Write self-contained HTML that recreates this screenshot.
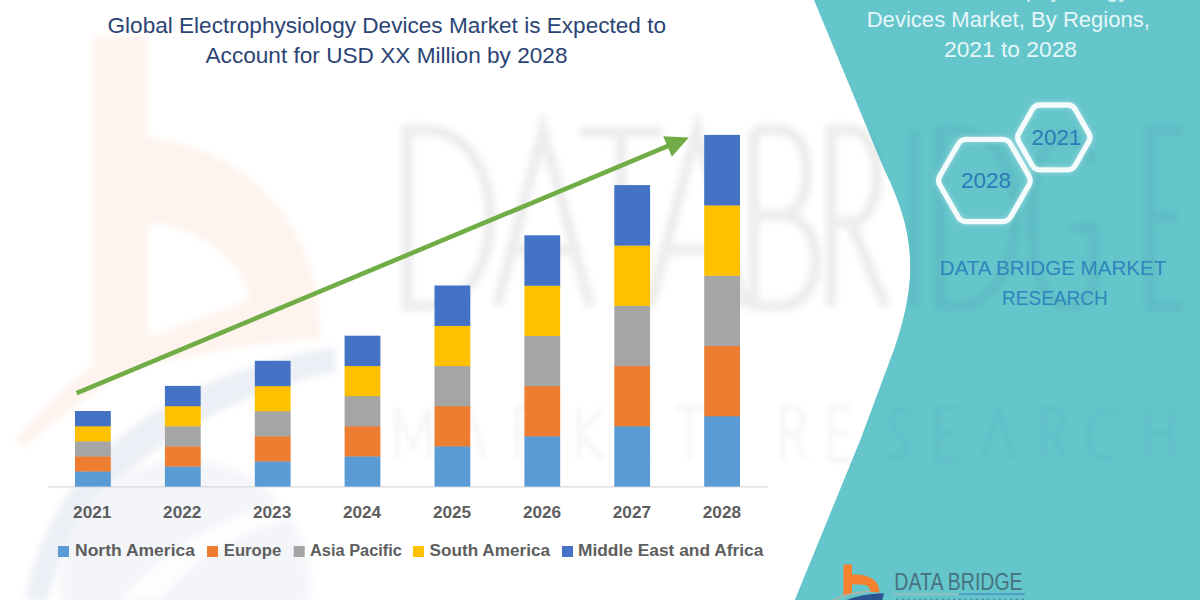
<!DOCTYPE html>
<html><head><meta charset="utf-8"><title>Global Electrophysiology Devices Market</title>
<style>
html,body{margin:0;padding:0;background:#fff;}
body{width:1200px;height:600px;overflow:hidden;font-family:"Liberation Sans",sans-serif;}
svg{display:block;font-family:"Liberation Sans",sans-serif;}
</style></head><body>
<svg width="1200" height="600" viewBox="0 0 1200 600">
<defs>
<filter id="b2" x="-10%" y="-10%" width="120%" height="120%"><feGaussianBlur stdDeviation="2"/></filter>
<filter id="b3" x="-10%" y="-10%" width="120%" height="120%"><feGaussianBlur stdDeviation="3"/></filter>
<filter id="b5" x="-10%" y="-10%" width="120%" height="120%"><feGaussianBlur stdDeviation="5"/></filter>
<filter id="b1" x="-10%" y="-10%" width="120%" height="120%"><feGaussianBlur stdDeviation="1.2"/></filter>
<filter id="hs" x="-20%" y="-20%" width="140%" height="140%"><feGaussianBlur stdDeviation="2.2"/></filter>
<clipPath id="tealclip"><path d="M814,0 L884.5,170 C905,212 910.3,240 910.3,268 C910.3,295 902.5,325 893.8,350 L860.3,440 L794.8,600 L1200,600 L1200,0 Z"/></clipPath>
<clipPath id="page"><rect width="1200" height="600"/></clipPath>
</defs>
<rect width="1200" height="600" fill="#ffffff"/>

<!-- faint watermark logo (left) -->
<g id="wm-left" clip-path="url(#page)">
<path fill-rule="evenodd" d="M93,36 L147,36 L147,138 C245,146 314,225 318,312 L321,338 L250,345 L148,364 C110,378 60,415 25,447 L15,440 C45,405 75,378 93,365 Z M148,222 C200,226 246,262 250,300 L148,338 Z" fill="#FEF3ED" filter="url(#b3)"/>
<path d="M335,347 C200,368 55,440 25,600 L48,600 C75,485 200,400 335,372 Z" fill="#ECEFF5" filter="url(#b3)"/>
<ellipse cx="185" cy="585" rx="125" ry="125" fill="#F3F5F9" filter="url(#b5)"/>
<path d="M120,600 C170,540 250,500 330,495 L330,512 C260,520 200,550 160,600 Z" fill="#FFFFFF" opacity="0.8" filter="url(#b3)"/>
</g>

<!-- faint big watermark text -->
<g id="wm-text" fill="none" stroke="#EDEDED" stroke-width="11" filter="url(#b3)">

<path d="M407,130 L407,306 L425,306 C512,306 512,130 425,130 Z"/>
<path d="M497,306 L543,130 L590,306 M512,250 L575,250"/>
<path d="M580,132 L662,132 M621,132 L621,306"/>
<path d="M650,306 L697,130 L745,306 M665,250 L730,250"/>
<path d="M754,130 L754,306 L780,306 C828,306 828,215 780,215 L754,215 M780,215 C816,215 816,130 780,130 L754,130"/>
<path d="M831,306 L831,130 L850,130 C886,130 886,222 850,222 L831,222 M850,222 L886,306"/>

</g>
<g id="wm-text2" fill="none" stroke="#F6F6F6" stroke-width="5" filter="url(#b2)">
<path d="M397,460 L397,408 L413,448 L429,408 L429,460"/>
<path d="M455,460 L470,408 L485,460"/>
<path d="M517,460 L517,408 L527,408 C541,408 541,434 527,434 L517,434 M527,434 L540,460"/>
<path d="M579,408 L579,460 M603,408 L580,434 L604,460"/>
<path d="M651,408 L630,408 L630,460 L651,460 M630,433 L648,433"/>
<path d="M675,408 L705,408 M690,408 L690,460"/>
<path d="M783,460 L783,408 L793,408 C807,408 807,434 793,434 L783,434 M793,434 L806,460"/>
<path d="M851,408 L830,408 L830,460 L851,460 M830,433 L848,433"/>
</g>
<path d="M400,350 L790,350" stroke="#FBEAE1" stroke-width="3" filter="url(#b1)"/>
<path d="M800,350 L910,350" stroke="#E5EBF5" stroke-width="3" filter="url(#b1)"/>

<!-- teal panel -->
<path d="M814,0 L884.5,170 C905,212 910.3,240 910.3,268 C910.3,295 902.5,325 893.8,350 L860.3,440 L794.8,600 L1200,600 L1200,0 Z" fill="#64C5CB"/>
<g clip-path="url(#tealclip)">
<g fill="none" stroke="#5EBEC5" stroke-width="11" filter="url(#b2)">

<path d="M831,306 L831,130 L850,130 C886,130 886,222 850,222 L831,222 M850,222 L886,306"/>
<path d="M914,130 L914,306"/>
<path d="M940,130 L940,306 L955,306 C1036,306 1036,130 955,130 Z"/>
<path d="M1092,162 C1075,118 1032,125 1032,220 C1032,315 1075,320 1094,288 L1094,228 L1070,228"/>
<path d="M1182,130 L1150,130 L1150,306 L1182,306 M1150,217 L1178,217"/>

</g>
<g fill="none" stroke="#60C0C7" stroke-width="5" filter="url(#b2)">
<path d="M783,460 L783,408 L793,408 C807,408 807,434 793,434 L783,434 M793,434 L806,460"/>
<path d="M851,408 L830,408 L830,460 L851,460 M830,433 L848,433"/>
<path d="M909,413 C899,404 885,414 895,430 C915,444 905,466 887,455"/>
<path d="M958,408 L937,408 L937,460 L958,460 M937,433 L955,433"/>
<path d="M983,460 L998,408 L1013,460"/>
<path d="M1043,460 L1043,408 L1053,408 C1067,408 1067,434 1053,434 L1043,434 M1053,434 L1066,460"/>
<path d="M1118,416 C1104,402 1088,416 1088,434 C1088,454 1104,466 1118,452"/>
<path d="M1147,408 L1147,460 M1171,408 L1171,460 M1147,433 L1171,433"/>
</g>
<path d="M900,350 L1200,350" stroke="#60BFC7" stroke-width="3" filter="url(#b1)"/>
</g>

<!-- axis -->
<line x1="48" y1="486.9" x2="768" y2="486.9" stroke="#D9D9D9" stroke-width="1.3"/>

<!-- bars -->
<rect x="75.0" y="471.24" width="35.8" height="15.36" fill="#5B9BD5"/>
<rect x="75.0" y="456.18" width="35.8" height="15.36" fill="#ED7D31"/>
<rect x="75.0" y="441.12" width="35.8" height="15.36" fill="#A5A5A5"/>
<rect x="75.0" y="426.06" width="35.8" height="15.36" fill="#FFC000"/>
<rect x="75.0" y="411.00" width="35.8" height="15.36" fill="#4472C4"/>
<rect x="164.9" y="466.22" width="35.8" height="20.38" fill="#5B9BD5"/>
<rect x="164.9" y="446.14" width="35.8" height="20.38" fill="#ED7D31"/>
<rect x="164.9" y="426.06" width="35.8" height="20.38" fill="#A5A5A5"/>
<rect x="164.9" y="405.98" width="35.8" height="20.38" fill="#FFC000"/>
<rect x="164.9" y="385.90" width="35.8" height="20.38" fill="#4472C4"/>
<rect x="254.8" y="461.20" width="35.8" height="25.40" fill="#5B9BD5"/>
<rect x="254.8" y="436.10" width="35.8" height="25.40" fill="#ED7D31"/>
<rect x="254.8" y="411.00" width="35.8" height="25.40" fill="#A5A5A5"/>
<rect x="254.8" y="385.90" width="35.8" height="25.40" fill="#FFC000"/>
<rect x="254.8" y="360.80" width="35.8" height="25.40" fill="#4472C4"/>
<rect x="344.6" y="456.18" width="35.8" height="30.42" fill="#5B9BD5"/>
<rect x="344.6" y="426.06" width="35.8" height="30.42" fill="#ED7D31"/>
<rect x="344.6" y="395.94" width="35.8" height="30.42" fill="#A5A5A5"/>
<rect x="344.6" y="365.82" width="35.8" height="30.42" fill="#FFC000"/>
<rect x="344.6" y="335.70" width="35.8" height="30.42" fill="#4472C4"/>
<rect x="434.5" y="446.14" width="35.8" height="40.46" fill="#5B9BD5"/>
<rect x="434.5" y="405.98" width="35.8" height="40.46" fill="#ED7D31"/>
<rect x="434.5" y="365.82" width="35.8" height="40.46" fill="#A5A5A5"/>
<rect x="434.5" y="325.66" width="35.8" height="40.46" fill="#FFC000"/>
<rect x="434.5" y="285.50" width="35.8" height="40.46" fill="#4472C4"/>
<rect x="524.4" y="436.10" width="35.8" height="50.50" fill="#5B9BD5"/>
<rect x="524.4" y="385.90" width="35.8" height="50.50" fill="#ED7D31"/>
<rect x="524.4" y="335.70" width="35.8" height="50.50" fill="#A5A5A5"/>
<rect x="524.4" y="285.50" width="35.8" height="50.50" fill="#FFC000"/>
<rect x="524.4" y="235.30" width="35.8" height="50.50" fill="#4472C4"/>
<rect x="614.3" y="426.06" width="35.8" height="60.54" fill="#5B9BD5"/>
<rect x="614.3" y="365.82" width="35.8" height="60.54" fill="#ED7D31"/>
<rect x="614.3" y="305.58" width="35.8" height="60.54" fill="#A5A5A5"/>
<rect x="614.3" y="245.34" width="35.8" height="60.54" fill="#FFC000"/>
<rect x="614.3" y="185.10" width="35.8" height="60.54" fill="#4472C4"/>
<rect x="704.2" y="416.02" width="35.8" height="70.58" fill="#5B9BD5"/>
<rect x="704.2" y="345.74" width="35.8" height="70.58" fill="#ED7D31"/>
<rect x="704.2" y="275.46" width="35.8" height="70.58" fill="#A5A5A5"/>
<rect x="704.2" y="205.18" width="35.8" height="70.58" fill="#FFC000"/>
<rect x="704.2" y="134.90" width="35.8" height="70.58" fill="#4472C4"/>

<!-- arrow -->
<line x1="76.6" y1="393.2" x2="670" y2="145.2" stroke="#70AD47" stroke-width="4.6"/>
<polygon points="688.8,137.4 663.2,136.2 671.9,156.8" fill="#70AD47"/>

<!-- title -->
<g fill="#2B4474" font-size="21.6">
<text x="107.5" y="32.5" textLength="558.5" lengthAdjust="spacingAndGlyphs">Global Electrophysiology Devices Market is Expected to</text>
<text x="205.5" y="62.5" textLength="362" lengthAdjust="spacingAndGlyphs">Account for USD XX Million by 2028</text>
</g>

<!-- year labels -->
<g fill="#5E5E5E" font-size="16" font-weight="bold">
<text x="73.1" y="518.2" textLength="38.2" lengthAdjust="spacingAndGlyphs">2021</text>
<text x="163.1" y="518.2" textLength="38.2" lengthAdjust="spacingAndGlyphs">2022</text>
<text x="253.0" y="518.2" textLength="38.2" lengthAdjust="spacingAndGlyphs">2023</text>
<text x="342.9" y="518.2" textLength="38.2" lengthAdjust="spacingAndGlyphs">2024</text>
<text x="432.9" y="518.2" textLength="38.2" lengthAdjust="spacingAndGlyphs">2025</text>
<text x="522.9" y="518.2" textLength="38.2" lengthAdjust="spacingAndGlyphs">2026</text>
<text x="612.8" y="518.2" textLength="38.2" lengthAdjust="spacingAndGlyphs">2027</text>
<text x="702.8" y="518.2" textLength="38.2" lengthAdjust="spacingAndGlyphs">2028</text>
</g>

<!-- legend -->
<g font-size="15.8" font-weight="bold" fill="#5E5E5E">
<rect x="58" y="546" width="11" height="11" fill="#5B9BD5"/>
<text x="75" y="556.3" textLength="120" lengthAdjust="spacingAndGlyphs">North America</text>
<rect x="207" y="546" width="11" height="11" fill="#ED7D31"/>
<text x="223.8" y="556.3" textLength="57.5" lengthAdjust="spacingAndGlyphs">Europe</text>
<rect x="293.7" y="546" width="11" height="11" fill="#A5A5A5"/>
<text x="310" y="556.3" textLength="92" lengthAdjust="spacingAndGlyphs">Asia Pacific</text>
<rect x="413" y="546" width="11" height="11" fill="#FFC000"/>
<text x="429.5" y="556.3" textLength="120.5" lengthAdjust="spacingAndGlyphs">South America</text>
<rect x="562" y="546" width="11" height="11" fill="#4472C4"/>
<text x="578" y="556.3" textLength="185.3" lengthAdjust="spacingAndGlyphs">Middle East and Africa</text>
</g>

<!-- right panel text -->
<g fill="#E6F7F9" font-size="21.6">
<text x="888.5" y="-3.3" textLength="241" lengthAdjust="spacingAndGlyphs">Global Electrophysiology</text>
<text x="866.7" y="26.7" textLength="283.3" lengthAdjust="spacingAndGlyphs">Devices Market, By Regions,</text>
<text x="944" y="56.7" textLength="133" lengthAdjust="spacingAndGlyphs">2021 to 2028</text>
</g>

<!-- hexagons -->
<g fill="none" stroke="#FFFFFF" stroke-width="8" opacity="0.25" filter="url(#hs)">
<path d="M940.0,185.3 Q937.3,180.5 940.0,175.7 L958.1,144.2 Q960.8,139.4 966.3,139.4 L1002.5,139.4 Q1008.0,139.4 1010.7,144.2 L1028.8,175.7 Q1031.5,180.5 1028.8,185.3 L1010.7,216.8 Q1008.0,221.6 1002.5,221.6 L966.3,221.6 Q960.8,221.6 958.1,216.8 Z"/>
<path d="M1018.9,141.7 Q1016.4,137.4 1018.9,133.1 L1032.4,109.3 Q1034.9,105.0 1039.9,105.0 L1067.7,105.0 Q1072.7,105.0 1075.2,109.3 L1088.7,133.1 Q1091.2,137.4 1088.7,141.7 L1075.2,165.5 Q1072.7,169.8 1067.7,169.8 L1039.9,169.8 Q1034.9,169.8 1032.4,165.5 Z"/>
</g>
<g fill="none" stroke="#F3FBFC" stroke-width="5.3" stroke-linejoin="round">
<path d="M940.0,185.3 Q937.3,180.5 940.0,175.7 L958.1,144.2 Q960.8,139.4 966.3,139.4 L1002.5,139.4 Q1008.0,139.4 1010.7,144.2 L1028.8,175.7 Q1031.5,180.5 1028.8,185.3 L1010.7,216.8 Q1008.0,221.6 1002.5,221.6 L966.3,221.6 Q960.8,221.6 958.1,216.8 Z"/>
<path d="M1018.9,141.7 Q1016.4,137.4 1018.9,133.1 L1032.4,109.3 Q1034.9,105.0 1039.9,105.0 L1067.7,105.0 Q1072.7,105.0 1075.2,109.3 L1088.7,133.1 Q1091.2,137.4 1088.7,141.7 L1075.2,165.5 Q1072.7,169.8 1067.7,169.8 L1039.9,169.8 Q1034.9,169.8 1032.4,165.5 Z"/>
</g>
<g fill="#2C7BB8" font-size="22.3">
<text x="961" y="188.3" textLength="50" lengthAdjust="spacingAndGlyphs">2028</text>
<text x="1031.5" y="145.4" textLength="49.8" lengthAdjust="spacingAndGlyphs">2021</text>
</g>

<g fill="#2F86BD" font-size="20.6">
<text x="939.8" y="275.1" textLength="226.4" lengthAdjust="spacingAndGlyphs">DATA BRIDGE MARKET</text>
<text x="1002" y="304.8" textLength="105.8" lengthAdjust="spacingAndGlyphs">RESEARCH</text>
</g>

<!-- bottom logo -->
<g id="logo">
<path d="M833,600.5 C842,595.5 856,592 873,591.2" fill="none" stroke="#C7AE98" stroke-width="1.2"/>
<path d="M843.4,564.4 H852 V574.6 C866,573.6 879.8,579 879.4,592.6 L870.8,592 C870.5,587 866,584.3 861,584.4 L852,584.4 V593 L843.4,595 Z" fill="#F5812F"/>
<path d="M845.5,600.5 C856,596 868,593.7 884,593.2 L882.3,600.5 Z" fill="#2A5592"/>
<text x="894.3" y="590" font-size="23" fill="#47727D" textLength="128.3" lengthAdjust="spacingAndGlyphs">DATA BRIDGE</text>
<rect x="893" y="593.3" width="66" height="1.6" fill="#9BBFC0"/>
<rect x="959" y="593.3" width="66" height="1.6" fill="#4E93C4"/>
<line x1="896" y1="599.4" x2="1024" y2="599.4" stroke="#3F7C8A" stroke-width="1.6" stroke-dasharray="2.5 3.2" opacity="0.6"/>
</g>
</svg>
</body></html>
